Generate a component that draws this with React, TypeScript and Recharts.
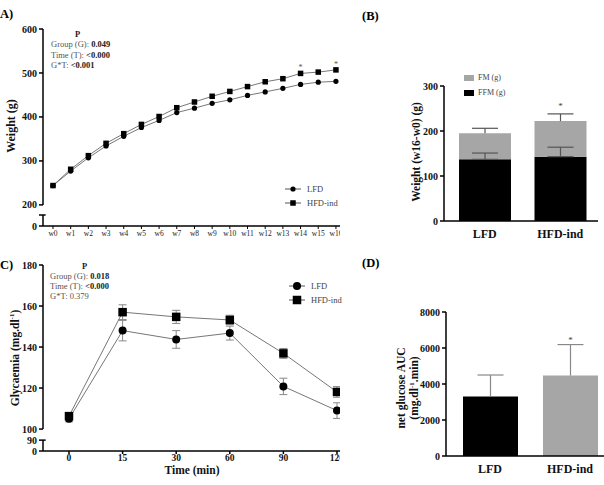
import React from 'react';
import {
  LineChart,
  Line,
  BarChart,
  Bar,
  Cell,
  XAxis,
  YAxis,
  ErrorBar,
  LabelList,
  Legend,
  ReferenceLine
} from 'recharts';

const FONT = '"Liberation Serif", "Times New Roman", serif';

// (A) body weight over the weeks
const weeks = ['w0', 'w1', 'w2', 'w3', 'w4', 'w5', 'w6', 'w7', 'w8', 'w9', 'w10', 'w11', 'w12', 'w13', 'w14', 'w15', 'w16'];
const weightLFD = [244, 277, 307, 334, 356, 376, 392, 410, 420, 431, 439, 449, 457, 465, 474, 479, 481];
const weightHFD = [244, 281, 312, 340, 362, 383, 401, 421, 434, 447, 458, 469, 480, 487, 499, 502, 507];
const weightStars = ['', '', '', '', '', '', '', '', '', '', '', '', '', '', '*', '', '*'];
const weightTicks = [152, 177, 200, 300, 400, 500, 600];
const weightTickLabels = ['0', '', '200', '300', '400', '500', '600'];

// (B) weight gain split in fat / fat free mass
const groups = ['LFD', 'HFD-ind'];
const ffmGain = [137, 143];
const ffmGainSem = [14, 21];
const fmGain = [58, 79];
const fmGainSem = [11, 16];
const gainStars = ['', '*'];
const gainTicks = [0, 100, 200, 300];

// (C) glucose tolerance test
const gttTimes = ['0', '15', '30', '60', '90', '120'];
const glyLFD = [105, 148, 143.7, 146.8, 120.8, 109];
const glyLFDSem = [1.5, 5, 4.3, 3.4, 4, 3.8];
const glyHFD = [106.3, 157, 154.7, 153.2, 136.9, 118.1];
const glyHFDSem = [1.5, 3.6, 3.2, 2.3, 2.4, 2.6];
const glyTicks = [89.3, 94.6, 100, 120, 140, 160, 180];
const glyTickLabels = ['0', '90', '100', '120', '140', '160', '180'];

// (D) net glucose AUC
const aucValues = [3300, 4470];
const aucSem = [1200, 1720];
const aucStars = ['', '*'];
const aucTicks = [0, 2000, 4000, 6000, 8000];

const GRAY = '#a6a6a6';
const barColors = ['#000', GRAY];

const weightData = weeks.map((w, i) => ({ idx: i, week: w, lfd: weightLFD[i], hfd: weightHFD[i], star: weightStars[i] }));
const gainData = groups.map((g, i) => ({
  group: g,
  ffm: ffmGain[i],
  fm: fmGain[i],
  ffmErr: [0, ffmGainSem[i]],
  fmSem: fmGainSem[i],
  star: gainStars[i]
}));
const gttData = gttTimes.map((t, i) => ({
  idx: i,
  lfd: glyLFD[i],
  hfd: glyHFD[i],
  lfdErr: glyLFDSem[i],
  hfdErr: glyHFDSem[i]
}));
const aucData = groups.map((g, i) => ({ group: g, auc: aucValues[i], aucSem: aucSem[i], star: aucStars[i] }));

const AX0 = -0.565;
const AX1 = 16.23;
const CX0 = -0.485;
const CX1 = 5.056;

const axisLine = { stroke: '#000', strokeWidth: 1.5 };
const boldTick = { fontSize: 10, fontWeight: 'bold', fill: '#111', fontFamily: FONT };

const circleDot = (r: number) => (p: any) => (
  <circle key={`c-${p.index}`} cx={p.cx} cy={p.cy} r={r} fill="#000" />
);
const squareDot = (s: number) => (p: any) => (
  <rect key={`s-${p.index}`} x={p.cx - s / 2} y={p.cy - s / 2} width={s} height={s} fill="#000" />
);

// upward-only SEM whisker, drawn as a stacked segment on top of the bar
const whisker = (color: string, half: number) => (p: any) => {
  const cx = p.x + p.width / 2;
  return (
    <g>
      <line x1={cx} y1={p.y + p.height} x2={cx} y2={p.y} stroke={color} strokeWidth={1.2} />
      <line x1={cx - half} y1={p.y} x2={cx + half} y2={p.y} stroke={color} strokeWidth={1.2} />
    </g>
  );
};

const lineLegend = (r: number, s: number) => (props: any) => {
  const items = [...(props.payload ?? [])].sort(
    (a: any, b: any) => groups.indexOf(a.value) - groups.indexOf(b.value)
  );
  return (
    <div style={{ fontFamily: FONT }}>
      {items.map((it: any) => (
        <div key={it.value} style={{ display: 'flex', alignItems: 'center', height: 14 }}>
          <svg width={16} height={12}>
            <line x1={0} y1={6} x2={16} y2={6} stroke="#555" />
            {it.value === 'LFD' ? (
              <circle cx={8} cy={6} r={r} fill="#000" />
            ) : (
              <rect x={8 - s / 2} y={6 - s / 2} width={s} height={s} fill="#000" />
            )}
          </svg>
          <span style={{ marginLeft: 6, fontSize: 8.5, color: '#444' }}>{it.value}</span>
        </div>
      ))}
    </div>
  );
};

const massLegend = (props: any) => {
  const names = ['FM (g)', 'FFM (g)'];
  const items = (props.payload ?? [])
    .filter((it: any) => names.includes(it.value))
    .sort((a: any, b: any) => names.indexOf(a.value) - names.indexOf(b.value));
  return (
    <div style={{ fontFamily: FONT }}>
      {items.map((it: any) => (
        <div key={it.value} style={{ display: 'flex', alignItems: 'center', height: 15 }}>
          <div style={{ width: 10, height: 6, background: it.color }} />
          <span style={{ marginLeft: 4, fontSize: 8, color: '#444' }}>{it.value}</span>
        </div>
      ))}
    </div>
  );
};

function WeightChart() {
  return (
    <LineChart width={340} height={250} data={weightData} margin={{ top: 29, right: 0, bottom: 4, left: 13 }}>
      <XAxis
        type="number"
        dataKey="idx"
        domain={[AX0, AX1]}
        allowDataOverflow
        ticks={weeks.map((_, i) => i)}
        interval={0}
        tickFormatter={(v) => weeks[v]}
        height={20}
        tickSize={3}
        axisLine={axisLine}
        tickLine={{ stroke: '#000' }}
        tick={{ fontSize: 7.5, fill: '#222', fontFamily: FONT }}
      />
      <YAxis
        type="number"
        domain={[152, 600]}
        allowDataOverflow
        ticks={weightTicks}
        interval={0}
        tickFormatter={(v) => weightTickLabels[weightTicks.indexOf(v)]}
        width={30}
        axisLine={false}
        tickSize={4}
        tickLine={{ stroke: '#000', strokeWidth: 1.5 }}
        tick={boldTick}
      />
      <ReferenceLine ifOverflow="visible" segment={[{ x: AX0, y: 200 }, { x: AX0, y: 600 }]} stroke="#000" strokeWidth={1.5} />
      <ReferenceLine ifOverflow="visible" segment={[{ x: AX0, y: 152 }, { x: AX0, y: 177 }]} stroke="#000" strokeWidth={1.5} />
      <ReferenceLine ifOverflow="visible" segment={[{ x: AX0, y: 177 }, { x: AX0 + 0.15, y: 177 }]} stroke="#000" strokeWidth={1.5} />
      <Line dataKey="lfd" name="LFD" stroke="#777" strokeWidth={1} dot={circleDot(2.6)} isAnimationActive={false} />
      <Line dataKey="hfd" name="HFD-ind" stroke="#777" strokeWidth={1} dot={squareDot(5.5)} isAnimationActive={false}>
        <LabelList dataKey="star" position="top" offset={3} style={{ fontSize: 8, fill: '#555', fontFamily: FONT }} />
      </Line>
      <Legend
        layout="vertical"
        align="center"
        verticalAlign="middle"
        wrapperStyle={{ left: 285, top: 182, width: 70 }}
        content={lineLegend(2.6, 5.5)}
      />
    </LineChart>
  );
}

function GainChart() {
  return (
    <BarChart width={264} height={250} data={gainData} margin={{ top: 86, right: 6, bottom: 5, left: 74 }} barSize={52}>
      <XAxis
        dataKey="group"
        padding={{ left: 3, right: 0 }}
        tickLine={false}
        axisLine={axisLine}
        height={24}
        tick={{ fontSize: 12, fontWeight: 'bold', fill: '#111', fontFamily: FONT }}
      />
      <YAxis
        type="number"
        domain={[0, 300]}
        ticks={gainTicks}
        width={30}
        tickSize={4}
        axisLine={axisLine}
        tickLine={{ stroke: '#000', strokeWidth: 1.5 }}
        tick={boldTick}
      />
      <Bar dataKey="ffm" name="FFM (g)" stackId="m" fill="#000" isAnimationActive={false}>
        <ErrorBar dataKey="ffmErr" direction="y" width={13} stroke="#555" strokeWidth={1.2} />
      </Bar>
      <Bar dataKey="fm" name="FM (g)" stackId="m" fill={GRAY} isAnimationActive={false} />
      <Bar dataKey="fmSem" stackId="m" legendType="none" fill="none" shape={whisker('#555', 13)} isAnimationActive={false}>
        <LabelList dataKey="star" position="top" offset={5} style={{ fontSize: 9, fill: '#444', fontFamily: FONT }} />
      </Bar>
      <Legend
        layout="vertical"
        align="center"
        verticalAlign="middle"
        wrapperStyle={{ left: 124, top: 70, width: 70 }}
        content={massLegend}
      />
    </BarChart>
  );
}

function GttChart() {
  return (
    <LineChart width={340} height={235} data={gttData} margin={{ top: 15, right: 0, bottom: 14, left: 13 }}>
      <XAxis
        type="number"
        dataKey="idx"
        domain={[CX0, CX1]}
        allowDataOverflow
        ticks={gttTimes.map((_, i) => i)}
        interval={0}
        tickFormatter={(v) => gttTimes[v]}
        height={20}
        tickSize={3}
        tickMargin={0}
        axisLine={axisLine}
        tickLine={{ stroke: '#000', strokeWidth: 1.5 }}
        tick={{ ...boldTick, fontSize: 9.5 }}
      />
      <YAxis
        type="number"
        domain={[89.3, 180]}
        allowDataOverflow
        ticks={glyTicks}
        interval={0}
        tickFormatter={(v) => glyTickLabels[glyTicks.indexOf(v)]}
        width={30}
        axisLine={false}
        tickSize={4}
        tickLine={{ stroke: '#000', strokeWidth: 1.5 }}
        tick={boldTick}
      />
      <ReferenceLine ifOverflow="visible" segment={[{ x: CX0, y: 100 }, { x: CX0, y: 180 }]} stroke="#000" strokeWidth={1.5} />
      <ReferenceLine ifOverflow="visible" segment={[{ x: CX0, y: 89.3 }, { x: CX0, y: 94.6 }]} stroke="#000" strokeWidth={1.5} />
      <ReferenceLine ifOverflow="visible" segment={[{ x: CX0, y: 94.6 }, { x: CX0 + 0.05, y: 94.6 }]} stroke="#000" strokeWidth={1.5} />
      <Line dataKey="lfd" name="LFD" stroke="#777" strokeWidth={1} dot={circleDot(4)} isAnimationActive={false}>
        <ErrorBar dataKey="lfdErr" direction="y" width={4} stroke="#888" strokeWidth={1} />
      </Line>
      <Line dataKey="hfd" name="HFD-ind" stroke="#777" strokeWidth={1} dot={squareDot(8.5)} isAnimationActive={false}>
        <ErrorBar dataKey="hfdErr" direction="y" width={4} stroke="#888" strokeWidth={1} />
      </Line>
      <Legend
        layout="vertical"
        align="center"
        verticalAlign="middle"
        wrapperStyle={{ left: 289, top: 29, width: 70 }}
        content={lineLegend(4, 8.5)}
      />
    </LineChart>
  );
}

function AucChart() {
  return (
    <BarChart width={270} height={235} data={aucData} margin={{ top: 62, right: 0, bottom: 5, left: 70 }} barSize={55}>
      <XAxis
        dataKey="group"
        padding={{ left: 4, right: 0 }}
        tickLine={false}
        axisLine={axisLine}
        height={24}
        tick={{ fontSize: 12, fontWeight: 'bold', fill: '#111', fontFamily: FONT }}
      />
      <YAxis
        type="number"
        domain={[0, 8000]}
        ticks={aucTicks}
        width={36}
        tickSize={4}
        axisLine={axisLine}
        tickLine={{ stroke: '#000', strokeWidth: 1.5 }}
        tick={boldTick}
      />
      <Bar dataKey="auc" stackId="a" isAnimationActive={false}>
        {aucData.map((d, i) => (
          <Cell key={d.group} fill={barColors[i]} />
        ))}
      </Bar>
      <Bar dataKey="aucSem" stackId="a" fill="none" shape={whisker('#888', 13)} isAnimationActive={false}>
        <LabelList dataKey="star" position="top" offset={2} style={{ fontSize: 9, fill: '#444', fontFamily: FONT }} />
      </Bar>
    </BarChart>
  );
}

const abs = (x: number, y: number, extra: React.CSSProperties = {}): React.CSSProperties => ({
  position: 'absolute',
  left: x,
  top: y,
  transform: 'translateY(-50%)',
  whiteSpace: 'nowrap',
  lineHeight: 1,
  fontFamily: FONT,
  ...extra
});

const vlabel = (x: number, y: number, size: number): React.CSSProperties => ({
  position: 'absolute',
  left: x,
  top: y,
  transform: 'translate(-50%, -50%) rotate(-90deg)',
  whiteSpace: 'nowrap',
  textAlign: 'center',
  lineHeight: 1.1,
  fontFamily: FONT,
  fontWeight: 'bold',
  fontSize: size,
  color: '#111'
});

const statLabel: React.CSSProperties = { color: '#555' };
const statValue: React.CSSProperties = { color: '#222', fontWeight: 'bold' };

export default function App() {
  return (
    <div
      style={{
        position: 'absolute',
        left: 0,
        top: 0,
        width: 604,
        height: 485,
        overflow: 'hidden',
        background: '#fff',
        fontFamily: FONT
      }}
    >
      <div style={{ position: 'absolute', left: 0, top: 0 }}>
        <WeightChart />
      </div>
      <div style={{ position: 'absolute', left: 340, top: 0 }}>
        <GainChart />
      </div>
      <div style={{ position: 'absolute', left: 0, top: 250 }}>
        <GttChart />
      </div>
      <div style={{ position: 'absolute', left: 340, top: 250 }}>
        <AucChart />
      </div>

      <div style={abs(0, 14, { fontSize: 12.5, fontWeight: 'bold' })}>A)</div>
      <div style={abs(362, 16, { fontSize: 12.5, fontWeight: 'bold' })}>(B)</div>
      <div style={abs(0, 265, { fontSize: 12.5, fontWeight: 'bold' })}>C)</div>
      <div style={abs(362, 263, { fontSize: 12.5, fontWeight: 'bold' })}>(D)</div>

      <div style={abs(75, 34, { fontSize: 8.5, fontWeight: 'bold', color: '#222' })}>P</div>
      <div style={abs(51, 44, { fontSize: 8.5 })}>
        <span style={statLabel}>Group (G): </span>
        <span style={statValue}>0.049</span>
      </div>
      <div style={abs(51, 54.5, { fontSize: 8.5 })}>
        <span style={statLabel}>Time (T): </span>
        <span style={statValue}>&lt;0.000</span>
      </div>
      <div style={abs(51, 65, { fontSize: 8.5 })}>
        <span style={statLabel}>G*T: </span>
        <span style={statValue}>&lt;0.001</span>
      </div>

      <div style={abs(82, 266, { fontSize: 8.5, fontWeight: 'bold', color: '#222' })}>P</div>
      <div style={abs(50, 276, { fontSize: 8.5 })}>
        <span style={statLabel}>Group (G): </span>
        <span style={statValue}>0.018</span>
      </div>
      <div style={abs(50, 286, { fontSize: 8.5 })}>
        <span style={statLabel}>Time (T): </span>
        <span style={statValue}>&lt;0.000</span>
      </div>
      <div style={abs(50, 296, { fontSize: 8.5 })}>
        <span style={statLabel}>G*T: 0.379</span>
      </div>

      <div style={vlabel(12, 126, 12)}>Weight (g)</div>
      <div style={vlabel(416, 152, 11.5)}>Weight (w16-w0) (g)</div>
      <div style={vlabel(15, 358, 11.5)}>
        Glycaemia (mg.dl<sup style={{ fontSize: 7 }}>-1</sup>)
      </div>
      <div style={vlabel(408, 388, 11.5)}>
        net glucose AUC
        <br />
        (mg.dl<sup style={{ fontSize: 7 }}>-1</sup>.min)
      </div>
      <div style={{ ...abs(192, 471, { fontSize: 11.5, fontWeight: 'bold', color: '#111' }), transform: 'translate(-50%, -50%)' }}>
        Time (min)
      </div>
    </div>
  );
}
